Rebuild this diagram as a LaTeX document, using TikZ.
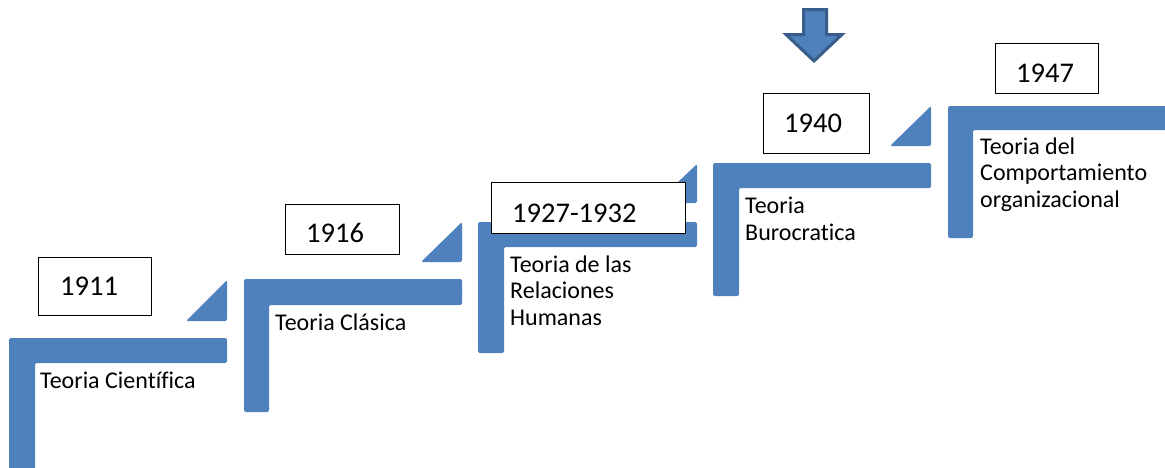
\documentclass[tikz,border=0pt]{standalone}
\usepackage{fontspec}
\setmainfont{Carlito}[Ligatures={NoCommon}]
\definecolor{stepblue}{RGB}{79,129,189}
\definecolor{arrowedge}{RGB}{56,93,138}
\tikzset{
  stair/.style={fill=stepblue, draw=none, rounded corners=2pt},
  riser/.style={fill=stepblue, draw=none, rounded corners=2pt},
  yearbox/.style={draw=black, line width=0.9pt, fill=white, rectangle, anchor=north west, inner sep=0pt},
  yeartext/.style={font=\fontsize{28.5}{34}\selectfont, anchor=base west, inner sep=0pt},
  stagetext/.style={font=\fontsize{24}{26.5}\selectfont, anchor=base west, align=left, inner sep=0pt},
}
\begin{document}
\begin{tikzpicture}[x=1pt, y=-1pt]
\useasboundingbox (0,0) rectangle (1165,467);
\clip (0,0) rectangle (1165,467);

% --- stairs: each is an L-shaped bar plus a small triangle to its right
\fill[stair] (9,475) -- (9,338) -- (227,338) -- (227,363) -- (35,363) -- (35,475) -- cycle;
\fill[riser] (186,321) -- (227,280) -- (227,321) -- cycle;

\fill[stair] (244,412) -- (244,279) -- (462,279) -- (462,305) -- (269,305) -- (269,412) -- cycle;
\fill[riser] (421,262) -- (462,222) -- (462,262) -- cycle;

\fill[stair] (478,353) -- (478,222) -- (697,222) -- (697,247) -- (504,247) -- (504,353) -- cycle;
\fill[riser] (656,203) -- (697,164) -- (697,203) -- cycle;

\fill[stair] (713,296) -- (713,163) -- (931,163) -- (931,188) -- (739,188) -- (739,296) -- cycle;
\fill[riser] (890,146) -- (931,106) -- (931,146) -- cycle;

\fill[stair] (948,238) -- (948,106) -- (1175,106) -- (1175,130) -- (973,130) -- (973,238) -- cycle;

% --- year boxes
\node[yearbox, minimum width=113pt, minimum height=58pt] (b1911) at (38,257) {};
\node[yeartext] (y1911) at (60,295) {1911};

\node[yearbox, minimum width=114pt, minimum height=50pt] (b1916) at (285,204) {};
\node[yeartext] (y1916) at (306,242) {1916};

\node[yearbox, minimum width=194pt, minimum height=51pt] (b1927) at (491,182) {};
\node[yeartext] (y1927) at (512,222) {1927-1932};

\node[yearbox, minimum width=106pt, minimum height=60pt] (b1940) at (763,93) {};
\node[yeartext] (y1940) at (784,132) {1940};

\node[yearbox, minimum width=103pt, minimum height=50pt] (b1947) at (995,43) {};
\node[yeartext] (y1947) at (1016,82) {1947};

% --- stage names (anchored at the baseline of their last line)
\node[stagetext] (t1) at (40,388) {Teoria Científica};
\node[stagetext] (t2) at (275,330) {Teoria Clásica};
\node[stagetext] (t3) at (510,325) {Teoria de las\\Relaciones\\Humanas};
\node[stagetext] (t4) at (745,240) {Teoria\\Burocratica};
\node[stagetext] (t5) at (980,207) {Teoria del\\Comportamiento\\organizacional};

% --- marker arrow above 1940
\draw[fill=stepblue, draw=arrowedge, line width=3pt, line join=miter]
  (803.5,9.5) -- (826.5,9.5) -- (826.5,34.5) -- (842,34.5) -- (814,61) -- (786,34.5) -- (803.5,34.5) -- cycle;
\end{tikzpicture}
\end{document}
